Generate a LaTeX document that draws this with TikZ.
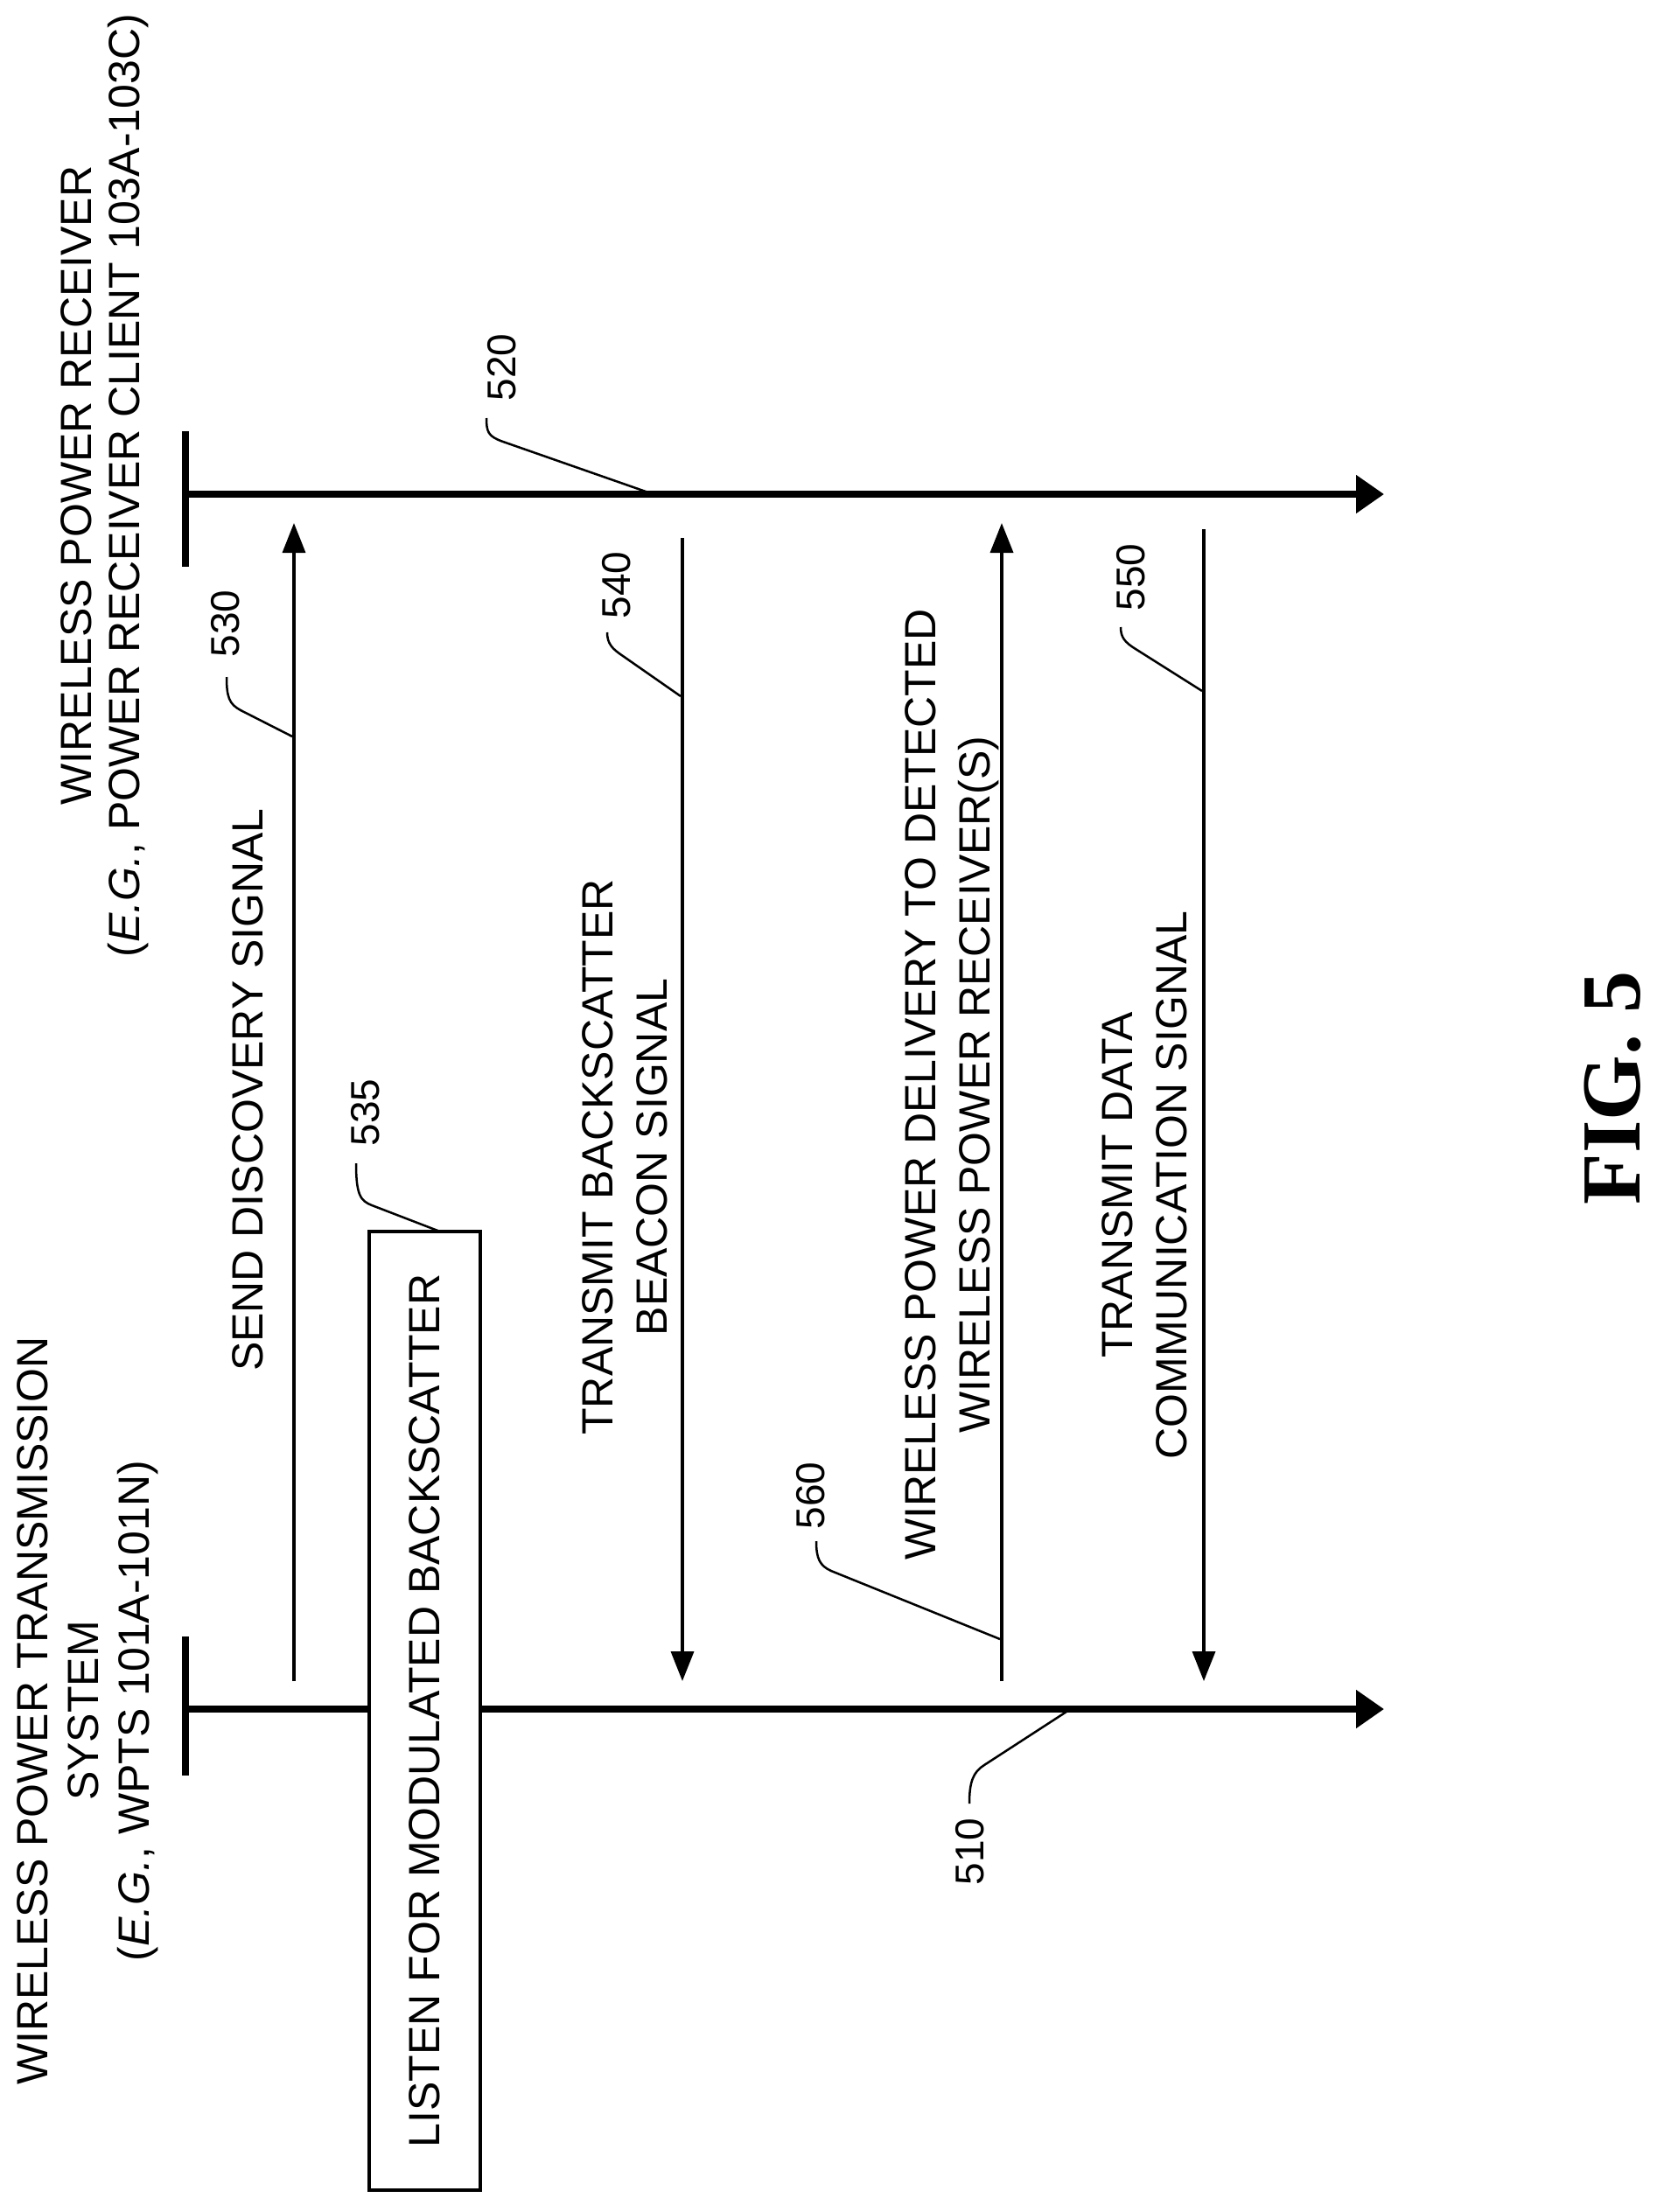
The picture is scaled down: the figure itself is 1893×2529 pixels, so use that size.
\documentclass[tikz,border=0pt]{standalone}
\usepackage{fontspec}
\setmainfont{Liberation Sans}
\newfontfamily\figfont{Liberation Serif}
\usetikzlibrary{arrows.meta}
\begin{document}
\begin{tikzpicture}[x=1pt,y=-1pt,
  txt/.style={rotate=90,font=\fontsize{50}{62}\selectfont,align=center,inner sep=0},
  num/.style={rotate=90,font=\fontsize{46}{56}\selectfont,inner sep=0},
  life/.style={line width=8pt,-{Triangle[length=32pt,width=42pt]}},
  bar/.style={line width=8pt},
  msg/.style={line width=3.5pt,-{Triangle[length=34pt,width=26pt]}},
  lead/.style={line width=2.5pt},
  box/.style={draw,line width=4pt,minimum width=127pt,minimum height=1096pt,inner sep=0}]
\useasboundingbox (0,0) rectangle (1893,2529);
% lifelines
\coordinate (a0) at (212,565); \coordinate (a1) at (1582,565);
\coordinate (b0) at (212,1954); \coordinate (b1) at (1582,1954);
\coordinate (at) at (212,493); \coordinate (ab) at (212,648);
\coordinate (bt) at (212,1871); \coordinate (bb) at (212,2030);
\draw[bar] (at) -- (ab);
\draw[bar] (bt) -- (bb);
\draw[life] (a0) -- (a1);
\draw[life] (b0) -- (b1);
% box
\node[box,fill=white] (box) at (485,1956) {};
\node[txt] (boxt) at (box.center) {LISTEN FOR MODULATED BACKSCATTER};
% messages
\coordinate (m1s) at (336,1922); \coordinate (m1e) at (336,598);
\coordinate (m2s) at (780,615); \coordinate (m2e) at (780,1922);
\coordinate (m3s) at (1145,1922); \coordinate (m3e) at (1145,598);
\coordinate (m4s) at (1376,605); \coordinate (m4e) at (1376,1922);
\draw[msg] (m1s) -- (m1e);
\draw[msg] (m2s) -- (m2e);
\draw[msg] (m3s) -- (m3e);
\draw[msg] (m4s) -- (m4e);
% titles
\node[txt] (t1) at (37,1956) {WIRELESS POWER TRANSMISSION};
\node[txt] (t2) at (95,1956) {SYSTEM};
\node[txt] (t3) at (158,1956) {(\textit{E.G.}, WPTS 101A-101N)};
\node[txt] (r1) at (87,555) {WIRELESS POWER RECEIVER};
\node[txt] (r2) at (147,555) {(\textit{E.G.}, POWER RECEIVER CLIENT 103A-103C)};
\node[txt] (s1) at (283,1246) {SEND DISCOVERY SIGNAL};
\node[txt] (s2) at (714,1323) {TRANSMIT BACKSCATTER\\BEACON SIGNAL};
\node[txt] (s3) at (1088,1240) {WIRELESS POWER DELIVERY TO DETECTED\\WIRELESS POWER RECEIVER(S)};
\node[txt] (s4) at (1308,1355) {TRANSMIT DATA\\COMMUNICATION SIGNAL};
\node[rotate=90,inner sep=0,font=\figfont\bfseries\fontsize{96}{110}\selectfont] (fig) at (1843,1244) {FIG. 5};
% reference labels
\node[num] (l520) at (574,420) {520};
\node[num] (l530) at (258,713) {530};
\node[num] (l540) at (705,669) {540};
\node[num] (l550) at (1293,660) {550};
\node[num] (l535) at (418,1272) {535};
\node[num] (l560) at (927,1710) {560};
\node[num] (l510) at (1109,2117) {510};
% leaders
\draw[lead] (741,563) -- (575,505) .. controls (558,499) and (556,494) .. (556,478);
\draw[lead] (334,842) -- (275,812) .. controls (262,805) and (259,797) .. (259,774);
\draw[lead] (778,796) -- (712,750) .. controls (700,742) and (694,736) .. (694,723);
\draw[lead] (1374,790) -- (1298,742) .. controls (1285,734) and (1281,728) .. (1281,717);
\draw[lead] (503,1408) -- (425,1378) .. controls (412,1373) and (407,1366) .. (407,1330);
\draw[lead] (1143,1874) -- (950,1796) .. controls (937,1790) and (933,1782) .. (933,1762);
\draw[lead] (1219,1957) -- (1125,2018) .. controls (1112,2026) and (1108,2038) .. (1108,2062);
\end{tikzpicture}
\end{document}
